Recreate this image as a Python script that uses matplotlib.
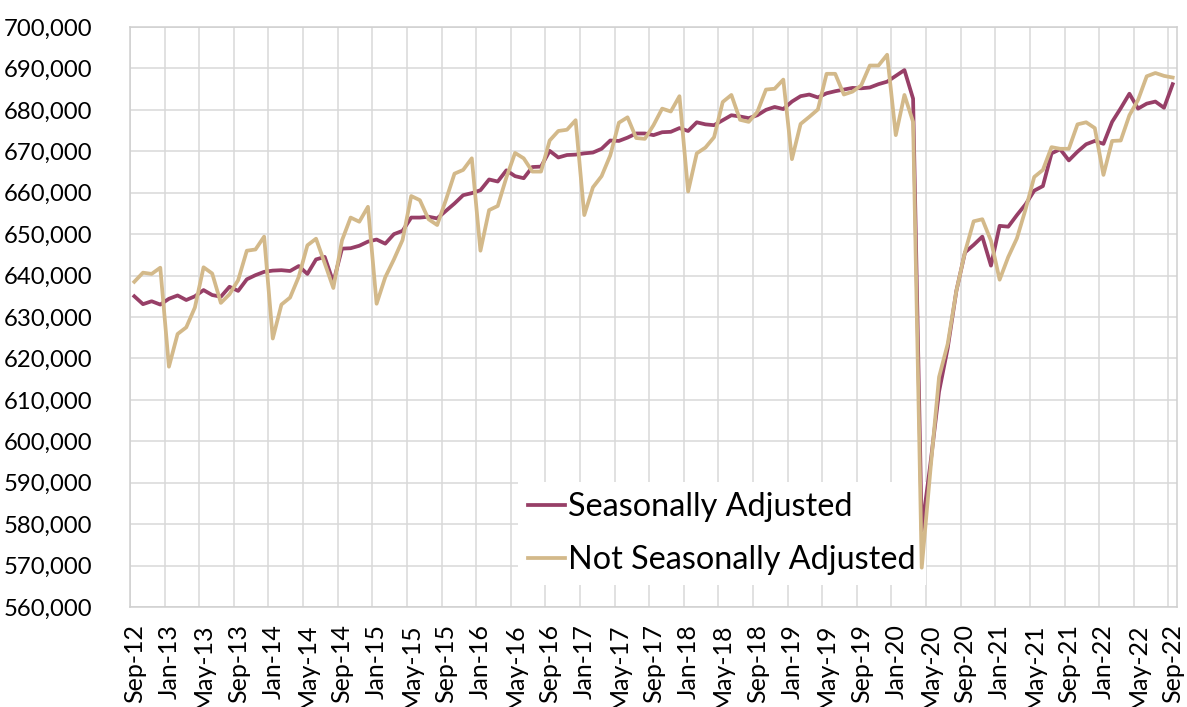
# Employment, seasonally adjusted vs not seasonally adjusted, Sep-12 .. Sep-22
import numpy as np
import matplotlib
matplotlib.use("Agg")
import matplotlib.pyplot as plt
from matplotlib.ticker import FuncFormatter

plt.rcParams['font.family'] = ['Lato', 'DejaVu Sans']

# monthly values (thousands), Sep-12 .. Sep-22
seasonally_adjusted = [
    635.0, 633.1, 633.8, 633.0, 634.4, 635.2, 634.1, 635.0, 636.5, 635.3, 634.9, 637.3,
    636.3, 639.1, 640.1, 640.9, 641.2, 641.3, 641.1, 642.3, 640.4, 643.9, 644.5, 638.4,
    646.5, 646.6, 647.2, 648.2, 648.7, 647.7, 650.0, 650.8, 654.0, 654.0, 654.2, 653.8,
    655.6, 657.4, 659.4, 659.9, 660.6, 663.2, 662.7, 665.4, 664.0, 663.5, 666.2, 666.3,
    670.1, 668.5, 669.1, 669.2, 669.5, 669.7, 670.6, 672.6, 672.5, 673.3, 674.3, 674.3,
    673.9, 674.6, 674.7, 675.6, 674.9, 677.0, 676.5, 676.3, 677.5, 678.7, 678.4, 678.0,
    678.7, 680.0, 680.7, 680.2, 682.0, 683.3, 683.7, 683.0, 684.0, 684.5, 684.9, 685.3,
    685.2, 685.4, 686.2, 686.8, 688.2, 689.6, 682.7, 578.5, 594.5, 612.0, 622.5, 636.3,
    645.6, 647.4, 649.4, 642.4, 652.0, 651.8, 654.6, 657.2, 660.5, 661.6, 669.5, 670.5,
    667.8, 669.9, 671.7, 672.5, 671.8, 677.1, 680.4, 683.9, 680.3, 681.5, 682.0, 680.5,
    686.2,
]
not_seasonally_adjusted = [
    638.5, 640.7, 640.4, 641.9, 618.0, 625.9, 627.5, 632.3, 642.0, 640.5, 633.4, 635.5,
    638.9, 646.0, 646.3, 649.4, 624.8, 633.0, 634.7, 639.7, 647.3, 648.9, 643.0, 637.0,
    648.5, 654.0, 653.0, 656.6, 633.2, 639.6, 643.9, 648.6, 659.2, 658.2, 653.6, 652.2,
    658.2, 664.6, 665.5, 668.3, 646.0, 655.8, 656.8, 663.7, 669.6, 668.3, 665.1, 665.1,
    672.6, 674.9, 675.2, 677.5, 654.6, 661.3, 664.0, 669.0, 676.9, 678.2, 673.2, 673.0,
    676.3, 680.3, 679.6, 683.3, 660.3, 669.5, 670.9, 673.4, 681.9, 683.6, 677.6, 677.1,
    679.5, 684.9, 685.1, 687.3, 668.1, 676.6, 678.3, 680.1, 688.7, 688.7, 683.7, 684.4,
    685.9, 690.7, 690.7, 693.3, 673.9, 683.6, 677.1, 569.5, 593.0, 615.5, 623.5, 636.3,
    645.7, 653.1, 653.6, 648.4, 639.0, 644.5, 649.0, 656.0, 663.8, 665.5, 671.0, 670.6,
    670.6, 676.5, 677.0, 675.6, 664.3, 672.5, 672.6, 678.7, 682.4, 688.1, 688.9, 688.2,
    687.8,
]
tick_labels = [
    "Sep-12", "Jan-13", "May-13", "Sep-13", "Jan-14", "May-14", "Sep-14", "Jan-15",
    "May-15", "Sep-15", "Jan-16", "May-16", "Sep-16", "Jan-17", "May-17", "Sep-17",
    "Jan-18", "May-18", "Sep-18", "Jan-19", "May-19", "Sep-19", "Jan-20", "May-20",
    "Sep-20", "Jan-21", "May-21", "Sep-21", "Jan-22", "May-22", "Sep-22",
]

sa = np.array(seasonally_adjusted) * 1000
nsa = np.array(not_seasonally_adjusted) * 1000
x = np.arange(len(sa))

purple = "#973f67"
tan = "#d3b98a"
grid_col = "#d9d9d9"

fig = plt.figure(figsize=(11.87, 7.07), dpi=100)
ax = fig.add_axes([130 / 1187, 1 - 607 / 707, 1047 / 1187, 580 / 707])

ax.plot(x, sa, color=purple, linewidth=2.7, label="Seasonally Adjusted", zorder=3)
ax.plot(x, nsa, color=tan, linewidth=2.7, label="Not Seasonally Adjusted", zorder=3)

ax.set_xlim(-0.5, len(sa) - 0.5)
ax.set_ylim(560000, 700000)
ax.set_yticks(np.arange(560000, 700001, 10000))
ax.yaxis.set_major_formatter(FuncFormatter(lambda v, p: f"{int(v):,}"))

ax.set_xticks(np.arange(0, len(sa), 4))
ax.set_xticklabels(tick_labels, rotation=90)
ax.set_xticks(np.arange(-0.5, len(sa), 4), minor=True)

ax.tick_params(axis='y', length=0, pad=27, labelsize=17.2)
ax.tick_params(axis='x', which='both', length=0, pad=12, labelsize=18)
ax.grid(True, axis='y', color=grid_col, linewidth=1.1, zorder=0)
ax.grid(True, axis='x', which='minor', color=grid_col, linewidth=1.1, zorder=0)
ax.set_axisbelow(True)
for pos in ['left', 'right', 'top', 'bottom']:
    ax.spines[pos].set_color("#cfcfcf")
    ax.spines[pos].set_linewidth(1.1)

leg = ax.legend(loc='upper left', bbox_to_anchor=(502 / 1187, 1 - 466 / 707),
                bbox_transform=fig.transFigure, fontsize=23.3, frameon=True,
                handlelength=1.15, handletextpad=0.1, labelspacing=0.72,
                borderpad=0.3, fancybox=False)
leg.get_frame().set_facecolor("white")
leg.get_frame().set_edgecolor("none")
leg.get_frame().set_alpha(1.0)
leg.set_zorder(2)

fig.savefig("out.png", dpi=100)
